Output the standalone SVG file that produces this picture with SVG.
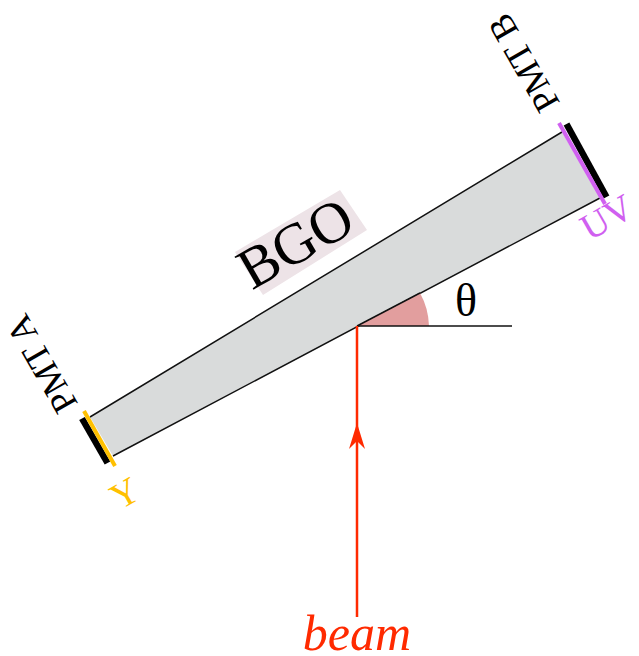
<svg xmlns="http://www.w3.org/2000/svg" width="639" height="656" viewBox="0 0 639 656">
<style>
text{font-family:"Liberation Serif","Times New Roman",serif;text-anchor:middle}
.k{fill:#000}
.edge{stroke:#111;stroke-width:1.5;fill:none}
</style>
<rect width="639" height="656" fill="#fff"/>
<g id="crystal"><polygon points="90,417 562,132 600,198 113,456" fill="#d9dbdb" stroke="none"/>
<path class="edge" d="M90,417 L562,132 M113,456 L600,198"/></g>
<g id="angle"><path d="M357,326 L420,293 A72,72 0 0 1 429,326 Z" fill="#e29e9e"/>
<path class="edge" d="M357,326 H512"/>
<path class="edge" d="M357,326 L420,293"/>
<text x="466" y="316" font-size="46" class="k">θ</text></g>
<g id="bgo"><polygon points="235,252 340,190 367,230 263,295" fill="#ede3e7"/>
<text transform="translate(305,260) rotate(-30)" font-size="58" class="k">BGO</text></g>
<g id="pmt-b"><line x1="566.5" y1="124" x2="606.5" y2="197" stroke="#000" stroke-width="6.5"/>
<line x1="559" y1="123" x2="605" y2="204" stroke="#d060f0" stroke-width="4"/>
<text transform="translate(534,57) rotate(-120)" font-size="36" class="k">PMT B</text>
<text transform="translate(613,228) rotate(-30)" font-size="37" fill="#d060f0">UV</text></g>
<g id="pmt-a"><line x1="82" y1="418.5" x2="107.5" y2="463" stroke="#000" stroke-width="6.5"/>
<line x1="84" y1="411" x2="115" y2="466" stroke="#ffc000" stroke-width="4"/>
<text transform="translate(52,358) rotate(-120)" font-size="36" class="k">PMT A</text>
<text transform="translate(131,504) rotate(-30)" font-size="37" fill="#ffc000">Y</text></g>
<g id="connectors"><line x1="357" y1="326" x2="357" y2="617" stroke="#ff2a00" stroke-width="2.5"/>
<path d="M357,423 L365,449 L357,441 L349,449 Z" fill="#ff2a00"/></g>
<g id="beam-label"><text x="357" y="650" font-size="50" font-style="italic" fill="#ff2a00">beam</text></g>
</svg>
